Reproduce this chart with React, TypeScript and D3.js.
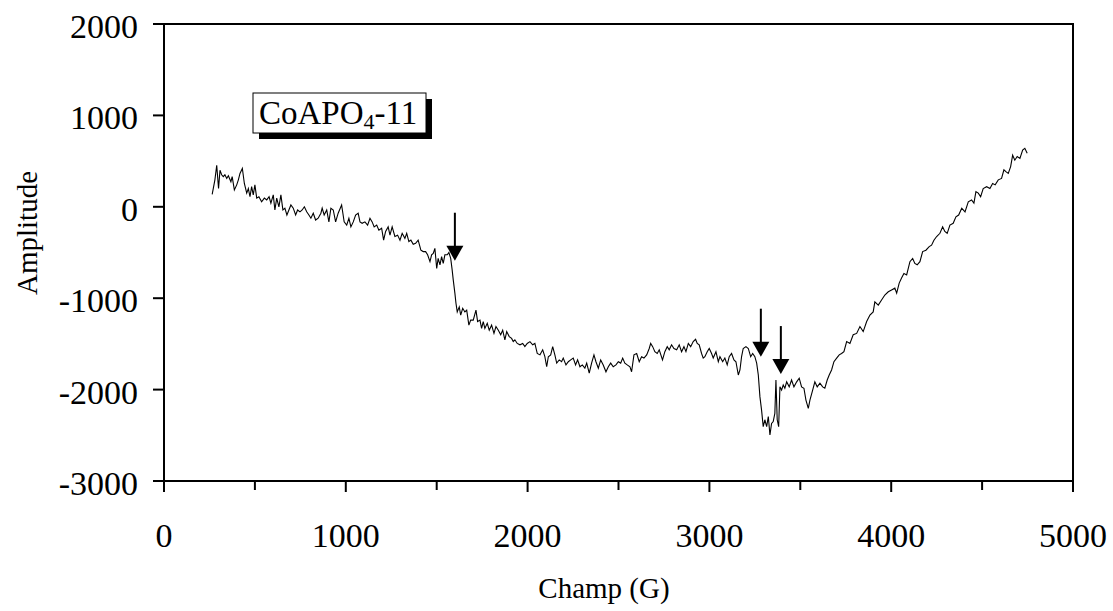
import React from "react";
import * as d3 from "d3";

const xTicks = [0, 1000, 2000, 3000, 4000, 5000];
const xMinorTicks = [500, 1500, 2500, 3500, 4500];
const yTicks = [-3000, -2000, -1000, 0, 1000, 2000];

// [Champ (G), Amplitude]
const spectrum: [number, number][] = [
  [265,135],[280,295],[290,455],[300,200],[308,400],[317,350],[326,330],[335,350],[345,310],[354,340],[368,275],[375,330],[387,185],[400,240],[409,295],[418,365],[431,420],[442,255],[455,150],[464,200],[473,110],[482,220],[491,130],[500,240],[510,95],[522,110],[537,55],[552,95],[565,75],[578,110],[588,40],[601,130],[610,-35],[620,95],[632,0],[643,130],[654,-35],[665,-15],[676,-90],[687,-35],[698,20],[711,-15],[724,-90],[735,-35],[748,-55],[760,-35],[772,0],[785,-55],[797,-90],[808,-125],[821,-70],[834,-145],[848,-125],[863,-70],[870,-15],[881,-90],[895,-35],[907,-165],[918,-15],[931,-35],[944,-165],[958,-70],[977,20],[991,-165],[1005,-200],[1017,-125],[1028,-220],[1041,-165],[1054,-90],[1068,-70],[1078,-165],[1090,-180],[1105,-165],[1120,-200],[1133,-125],[1145,-165],[1156,-220],[1170,-200],[1182,-255],[1197,-235],[1208,-365],[1219,-270],[1233,-220],[1243,-310],[1255,-220],[1270,-325],[1285,-310],[1298,-365],[1310,-290],[1325,-345],[1335,-290],[1347,-380],[1358,-365],[1371,-410],[1384,-400],[1398,-365],[1413,-475],[1426,-490],[1439,-490],[1450,-525],[1463,-600],[1472,-525],[1481,-510],[1490,-455],[1500,-675],[1508,-565],[1518,-635],[1527,-545],[1536,-620],[1545,-525],[1558,-525],[1567,-500],[1577,-565],[1585,-690],[1591,-800],[1600,-945],[1606,-1055],[1613,-1150],[1624,-1095],[1632,-1185],[1643,-1110],[1655,-1150],[1665,-1130],[1677,-1295],[1687,-1240],[1701,-1240],[1716,-1130],[1725,-1255],[1738,-1240],[1747,-1330],[1756,-1255],[1765,-1330],[1778,-1275],[1789,-1350],[1802,-1295],[1815,-1385],[1826,-1310],[1839,-1350],[1852,-1400],[1863,-1350],[1875,-1455],[1885,-1365],[1899,-1420],[1912,-1440],[1921,-1475],[1930,-1455],[1943,-1495],[1958,-1510],[1973,-1495],[1985,-1530],[1998,-1495],[2013,-1475],[2028,-1510],[2040,-1495],[2053,-1605],[2068,-1620],[2083,-1565],[2095,-1640],[2105,-1750],[2114,-1640],[2127,-1620],[2138,-1530],[2150,-1620],[2160,-1710],[2174,-1675],[2187,-1695],[2196,-1655],[2211,-1730],[2224,-1695],[2237,-1675],[2251,-1655],[2264,-1730],[2275,-1675],[2288,-1750],[2301,-1730],[2315,-1765],[2325,-1710],[2339,-1820],[2352,-1710],[2365,-1620],[2376,-1695],[2389,-1765],[2402,-1675],[2416,-1730],[2431,-1805],[2444,-1750],[2457,-1710],[2471,-1750],[2486,-1730],[2499,-1695],[2512,-1710],[2523,-1655],[2535,-1710],[2548,-1730],[2563,-1750],[2572,-1805],[2585,-1620],[2600,-1605],[2614,-1695],[2627,-1640],[2640,-1655],[2655,-1620],[2669,-1550],[2677,-1495],[2688,-1530],[2700,-1585],[2713,-1605],[2724,-1565],[2742,-1675],[2755,-1585],[2768,-1530],[2779,-1565],[2792,-1510],[2805,-1550],[2820,-1565],[2834,-1510],[2847,-1585],[2860,-1530],[2871,-1585],[2884,-1495],[2897,-1530],[2911,-1475],[2924,-1450],[2933,-1495],[2944,-1510],[2957,-1605],[2966,-1655],[2975,-1640],[2988,-1585],[2999,-1550],[3012,-1605],[3021,-1655],[3036,-1585],[3049,-1695],[3058,-1640],[3073,-1695],[3085,-1655],[3098,-1730],[3109,-1640],[3122,-1605],[3135,-1675],[3146,-1695],[3159,-1840],[3168,-1785],[3177,-1640],[3186,-1550],[3201,-1530],[3214,-1550],[3227,-1640],[3238,-1605],[3250,-1640],[3260,-1710],[3269,-1840],[3278,-2080],[3287,-2225],[3296,-2405],[3305,-2330],[3315,-2405],[3324,-2295],[3333,-2495],[3342,-2370],[3351,-2350],[3360,-2260],[3366,-1895],[3373,-2330],[3381,-2405],[3388,-1970],[3397,-2005],[3406,-1950],[3415,-1985],[3425,-1915],[3439,-1970],[3452,-1895],[3465,-1970],[3480,-1915],[3494,-1875],[3507,-1970],[3520,-1985],[3531,-2115],[3544,-2205],[3553,-2115],[3568,-2005],[3580,-1915],[3593,-1970],[3608,-1930],[3623,-1970],[3635,-1985],[3648,-1895],[3659,-1840],[3672,-1785],[3685,-1695],[3700,-1655],[3714,-1620],[3727,-1605],[3740,-1585],[3755,-1475],[3773,-1495],[3791,-1400],[3810,-1385],[3828,-1310],[3846,-1365],[3865,-1255],[3883,-1185],[3901,-1150],[3910,-1040],[3929,-1075],[3947,-1020],[3965,-965],[3984,-930],[4002,-910],[4020,-890],[4030,-945],[4044,-835],[4057,-780],[4070,-730],[4085,-745],[4103,-600],[4118,-565],[4130,-620],[4143,-635],[4158,-600],[4173,-490],[4191,-475],[4209,-435],[4222,-420],[4235,-365],[4250,-325],[4268,-290],[4283,-220],[4295,-270],[4308,-290],[4323,-200],[4341,-180],[4356,-110],[4371,-90],[4388,-15],[4406,-55],[4424,55],[4442,75],[4455,40],[4466,165],[4479,150],[4492,110],[4506,200],[4525,220],[4543,200],[4558,255],[4572,240],[4589,295],[4607,310],[4620,405],[4631,385],[4644,365],[4657,440],[4668,565],[4680,510],[4693,550],[4708,530],[4723,620],[4735,640],[4748,585],
];

// arrow tips (field, amplitude)
const arrowTips: [number, number][] = [
  [1600, -590],
  [3283, -1640],
  [3393, -1830],
];

const sampleLabel = "CoAPO";
const sampleSub = "4";
const sampleSuffix = "-11";
const xTitle = "Champ (G)";
const yTitle = "Amplitude";

const W = 1113;
const H = 611;
const left = 164, right = 1073, top = 24, bottom = 481;
const FONT = "'Liberation Serif', 'Times New Roman', serif";

export default function App() {
  const x = d3.scaleLinear().domain([0, 5000]).range([left, right]);
  const y = d3.scaleLinear().domain([-3000, 2000]).range([bottom, top]);
  const line = d3
    .line<[number, number]>()
    .x((d) => x(d[0]))
    .y((d) => y(d[1]))
    .curve(d3.curveLinear);

  const boxX = 253, boxY = 93, boxW = 173, boxH = 40;

  return (
    <svg
      width={W}
      height={H}
      style={{ position: "absolute", left: 0, top: 0, background: "#fff" }}
      fontFamily={FONT}
    >
      <rect x={0} y={0} width={W} height={H} fill="#fff" />
      <rect
        x={left}
        y={top}
        width={right - left}
        height={bottom - top}
        fill="none"
        stroke="#000"
        strokeWidth={2}
      />
      {yTicks.map((t) => (
        <g key={"y" + t}>
          <line x1={left - 11} x2={left} y1={y(t)} y2={y(t)} stroke="#000" strokeWidth={2} />
          <text x={138} y={y(t) + 14} textAnchor="end" fontSize={34}>
            {t}
          </text>
        </g>
      ))}
      {xTicks.map((t) => (
        <g key={"x" + t}>
          <line x1={x(t)} x2={x(t)} y1={bottom} y2={bottom + 11} stroke="#000" strokeWidth={2} />
          <text x={x(t)} y={547} textAnchor="middle" fontSize={34}>
            {t}
          </text>
        </g>
      ))}
      {xMinorTicks.map((t) => (
        <line key={"m" + t} x1={x(t)} x2={x(t)} y1={bottom} y2={bottom + 9} stroke="#000" strokeWidth={2} />
      ))}
      <text x={x(2420)} y={598} textAnchor="middle" fontSize={29}>
        {xTitle}
      </text>
      <text transform={`translate(37, 233) rotate(-90)`} textAnchor="middle" fontSize={29}>
        {yTitle}
      </text>
      <path d={line(spectrum) || ""} fill="none" stroke="#000" strokeWidth={1.1} />
      {arrowTips.map((a, i) => {
        const ax = x(a[0]);
        const ay = y(a[1]);
        return (
          <g key={"a" + i}>
            <line x1={ax} x2={ax} y1={ay - 48} y2={ay - 12} stroke="#000" strokeWidth={2} />
            <path d={`M${ax - 8.5},${ay - 15} L${ax + 8.5},${ay - 15} L${ax},${ay} Z`} fill="#000" />
          </g>
        );
      })}
      <rect x={boxX + 6} y={boxY + 6} width={boxW} height={boxH} fill="#000" />
      <rect x={boxX} y={boxY} width={boxW} height={boxH} fill="#fff" stroke="#000" strokeWidth={1} />
      <text x={boxX + 6} y={boxY + 31} fontSize={33}>
        {sampleLabel}
        <tspan fontSize={22} dy={5}>
          {sampleSub}
        </tspan>
        <tspan dy={-5}>{sampleSuffix}</tspan>
      </text>
    </svg>
  );
}
